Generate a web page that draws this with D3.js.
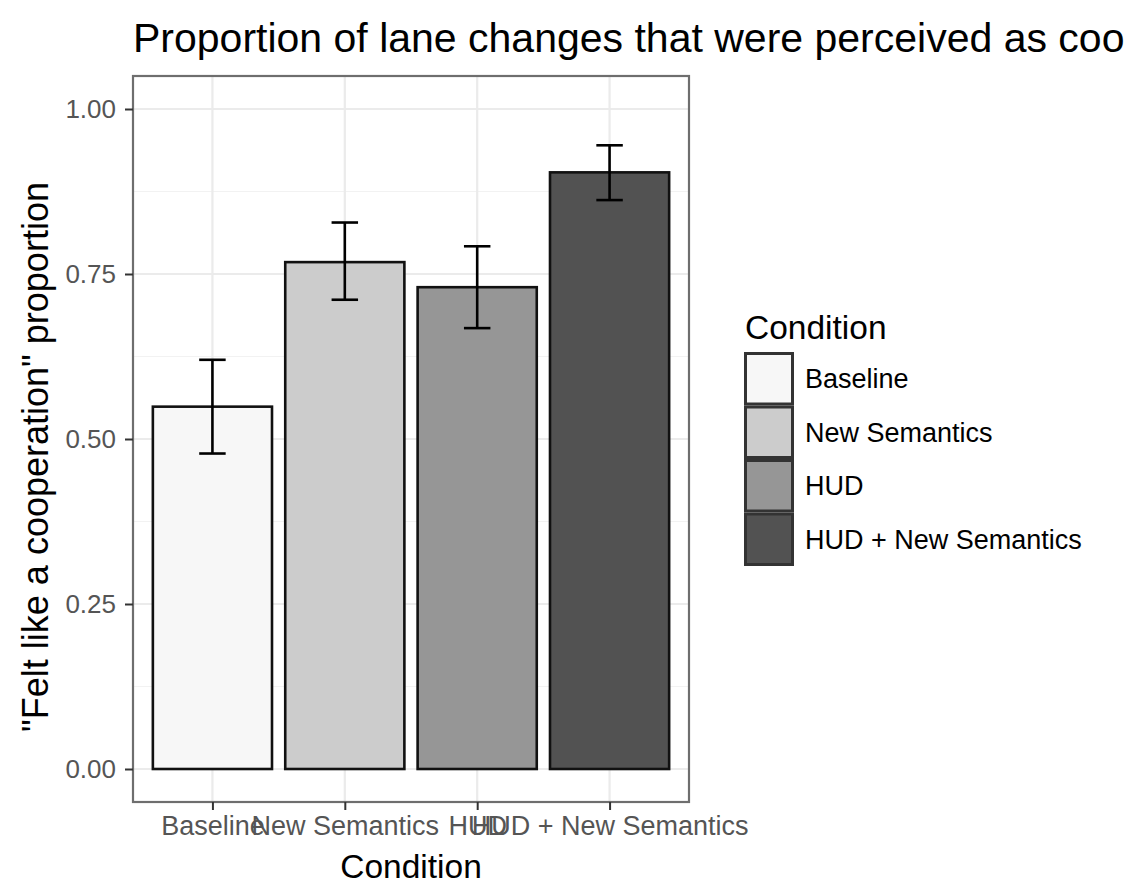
<!DOCTYPE html>
<html>
<head>
<meta charset="utf-8">
<script src="https://cdn.jsdelivr.net/npm/d3@7"></script>
<style>
  html, body { margin: 0; padding: 0; background: #ffffff; }
  svg { display: block; font-family: "Liberation Sans", Arial, Helvetica, sans-serif; }
</style>
</head>
<body>
<svg id="chart" width="1126" height="884"></svg>
<script>
// Conditions and their proportions with error-bar bounds
const conditions = ["Baseline", "New Semantics", "HUD", "HUD + New Semantics"];
const proportions = [0.549, 0.768, 0.730, 0.904];
const lowerBounds = [0.478, 0.711, 0.668, 0.862];
const upperBounds = [0.620, 0.828, 0.792, 0.945];
const fillColors = ["#F7F7F7", "#CCCCCC", "#969696", "#525252"];
const yTicks = [0, 0.25, 0.5, 0.75, 1.0];
const yMinorTicks = [0.125, 0.375, 0.625, 0.875];

const titleText = "Proportion of lane changes that were perceived as cooperation";
const xTitle = "Condition";
const yTitle = "\"Felt like a cooperation\" proportion";
const legendTitle = "Condition";

const svg = d3.select("#chart");

// Panel area
const panel = { left: 133, right: 689, top: 76, bottom: 802 };

// Discrete x positions: 0.6 units of expansion on each side
const step = (panel.right - panel.left) / (conditions.length - 1 + 1.2);
const x = d3.scalePoint()
  .domain(conditions)
  .range([panel.left + step * 0.6, panel.right - step * 0.6]);

// y range: 0..1 with 5% expansion either side
const y = d3.scaleLinear()
  .domain([-0.05, 1.05])
  .range([panel.bottom, panel.top]);

const g = svg.append("g");

// Panel background
g.append("rect")
  .attr("x", panel.left).attr("y", panel.top)
  .attr("width", panel.right - panel.left)
  .attr("height", panel.bottom - panel.top)
  .attr("fill", "#ffffff");

// Minor gridlines
g.selectAll("line.ymin").data(yMinorTicks).join("line")
  .attr("x1", panel.left).attr("x2", panel.right)
  .attr("y1", d => y(d)).attr("y2", d => y(d))
  .attr("stroke", "#F2F2F2").attr("stroke-width", 1.2);

// Major gridlines
g.selectAll("line.ymaj").data(yTicks).join("line")
  .attr("x1", panel.left).attr("x2", panel.right)
  .attr("y1", d => y(d)).attr("y2", d => y(d))
  .attr("stroke", "#EBEBEB").attr("stroke-width", 2.2);

g.selectAll("line.xmaj").data(conditions).join("line")
  .attr("x1", d => x(d)).attr("x2", d => x(d))
  .attr("y1", panel.top).attr("y2", panel.bottom)
  .attr("stroke", "#EBEBEB").attr("stroke-width", 2.2);

// Bars
const barW = step * 0.9;
g.selectAll("rect.bar").data(conditions).join("rect")
  .attr("class", "bar")
  .attr("x", d => x(d) - barW / 2)
  .attr("width", barW)
  .attr("y", (d, i) => y(proportions[i]))
  .attr("height", (d, i) => y(0) - y(proportions[i]))
  .attr("fill", (d, i) => fillColors[i])
  .attr("stroke", "#111111")
  .attr("stroke-width", 2.6);

// Error bars
const capW = step * 0.2;
const eb = g.selectAll("g.err").data(conditions).join("g").attr("class", "err");
eb.append("line")
  .attr("x1", d => x(d)).attr("x2", d => x(d))
  .attr("y1", (d, i) => y(lowerBounds[i])).attr("y2", (d, i) => y(upperBounds[i]))
  .attr("stroke", "#000").attr("stroke-width", 2.6);
eb.append("line")
  .attr("x1", d => x(d) - capW / 2).attr("x2", d => x(d) + capW / 2)
  .attr("y1", (d, i) => y(upperBounds[i])).attr("y2", (d, i) => y(upperBounds[i]))
  .attr("stroke", "#000").attr("stroke-width", 2.6);
eb.append("line")
  .attr("x1", d => x(d) - capW / 2).attr("x2", d => x(d) + capW / 2)
  .attr("y1", (d, i) => y(lowerBounds[i])).attr("y2", (d, i) => y(lowerBounds[i]))
  .attr("stroke", "#000").attr("stroke-width", 2.6);

// Panel border
g.append("rect")
  .attr("x", panel.left).attr("y", panel.top)
  .attr("width", panel.right - panel.left)
  .attr("height", panel.bottom - panel.top)
  .attr("fill", "none")
  .attr("stroke", "#6E6E6E").attr("stroke-width", 2.2);

// Y axis
const yAxis = d3.axisLeft(y)
  .tickValues(yTicks)
  .tickFormat(d3.format(".2f"))
  .tickSize(8)
  .tickPadding(9);
const yAx = svg.append("g")
  .attr("transform", `translate(${panel.left},0)`)
  .call(yAxis);
yAx.select(".domain").remove();
yAx.selectAll(".tick line").attr("stroke", "#333333").attr("stroke-width", 2);
yAx.selectAll(".tick text")
  .attr("fill", "#555555")
  .style("font-size", "26px")
  .style("font-family", "Liberation Sans, Arial, sans-serif");

// X axis
const xAxis = d3.axisBottom(x).tickSize(8).tickPadding(6);
const xAx = svg.append("g")
  .attr("transform", `translate(0,${panel.bottom})`)
  .call(xAxis);
xAx.select(".domain").remove();
xAx.selectAll(".tick line").attr("stroke", "#333333").attr("stroke-width", 2);
xAx.selectAll(".tick text")
  .attr("fill", "#555555")
  .style("font-size", "27px")
  .style("font-family", "Liberation Sans, Arial, sans-serif");

// Axis titles
svg.append("text")
  .attr("x", (panel.left + panel.right) / 2)
  .attr("y", 878)
  .attr("text-anchor", "middle")
  .attr("fill", "#000")
  .style("font-size", "33.5px")
  .text(xTitle);

svg.append("text")
  .attr("transform", `translate(48,457) rotate(-90)`)
  .attr("text-anchor", "middle")
  .attr("fill", "#000")
  .style("font-size", "36px")
  .text(yTitle);

// Plot title
svg.append("text")
  .attr("x", panel.left)
  .attr("y", 52)
  .attr("fill", "#000")
  .style("font-size", "41px")
  .text(titleText);

// Legend
const legend = svg.append("g").attr("transform", "translate(744,0)");
legend.append("text")
  .attr("x", 1).attr("y", 339)
  .attr("fill", "#000")
  .style("font-size", "33.5px")
  .text(legendTitle);

const keyH = 53.5, keyW = 50, keyTop = 352;
const items = legend.selectAll("g.item").data(conditions).join("g")
  .attr("transform", (d, i) => `translate(0,${keyTop + i * keyH})`);
items.append("rect")
  .attr("x", 1.5).attr("y", 1.5)
  .attr("width", keyW - 3).attr("height", keyH - 3)
  .attr("fill", (d, i) => fillColors[i])
  .attr("stroke", "#333333").attr("stroke-width", 3);
items.append("text")
  .attr("x", 61).attr("y", keyH / 2)
  .attr("dy", "0.35em")
  .attr("fill", "#000")
  .style("font-size", "27px")
  .text(d => d);
</script>
</body>
</html>
